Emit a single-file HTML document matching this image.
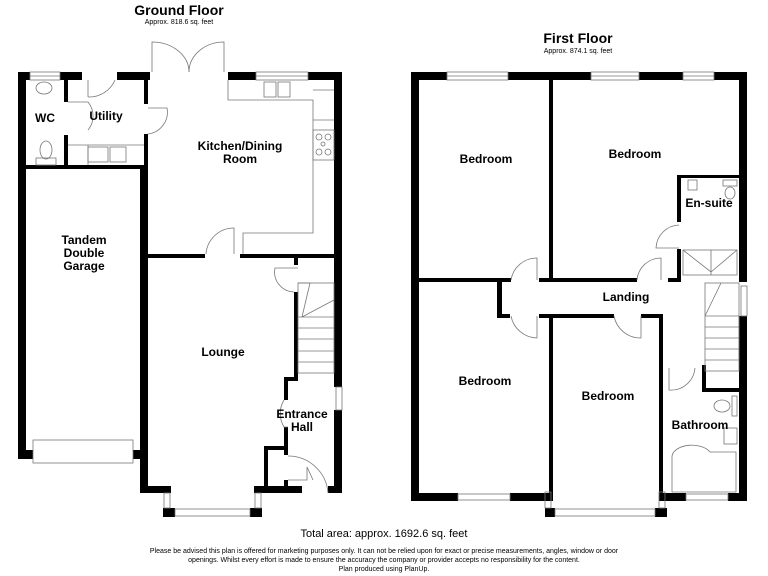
<!DOCTYPE html>
<html><head><meta charset="utf-8"><style>
html,body{margin:0;padding:0;background:#fff;}
svg{display:block;}
text{font-family:"Liberation Sans",Arial,sans-serif;fill:#000;}
.b{font-weight:bold;font-size:12px;}
</style></head><body>
<svg width="768" height="576" viewBox="0 0 768 576" xmlns="http://www.w3.org/2000/svg">
<g fill="#000">
<!-- GROUND FLOOR walls -->
<rect x="18" y="72" width="8" height="387"/>
<rect x="18" y="72" width="12" height="8"/>
<rect x="60" y="72" width="22" height="8"/>
<rect x="117" y="72" width="33" height="8"/>
<rect x="228" y="72" width="28" height="8"/>
<rect x="308" y="72" width="34" height="8"/>
<rect x="334" y="72" width="8" height="315"/>
<rect x="334" y="410" width="8" height="83"/>
<rect x="328" y="486" width="14" height="7"/>
<rect x="18" y="450" width="15" height="9"/>
<rect x="133" y="450" width="15" height="9"/>
<rect x="140" y="165" width="8" height="328"/>
<rect x="140" y="486" width="31" height="7"/>
<rect x="254" y="486" width="48" height="7"/>
<rect x="163" y="508" width="12" height="9"/>
<rect x="250" y="508" width="12" height="9"/>
<rect x="26" y="165" width="122" height="4"/>
<rect x="64" y="80" width="4" height="22"/>
<rect x="64" y="135" width="4" height="30"/>
<rect x="144" y="80" width="4" height="24"/>
<rect x="144" y="134" width="4" height="31"/>
<rect x="148" y="254" width="57" height="4"/>
<rect x="240" y="254" width="102" height="4"/>
<rect x="294" y="258" width="4" height="7"/>
<rect x="294" y="292" width="4" height="88"/>
<rect x="284" y="377" width="14" height="4"/>
<rect x="284" y="377" width="4" height="23"/>
<rect x="284" y="427" width="4" height="28"/>
<rect x="264" y="446" width="24" height="4"/>
<rect x="264" y="446" width="4" height="42"/>
<rect x="284" y="480" width="4" height="8"/>
<!-- FIRST FLOOR walls -->
<rect x="411" y="72" width="8" height="429"/>
<rect x="411" y="72" width="36" height="8"/>
<rect x="508" y="72" width="83" height="8"/>
<rect x="639" y="72" width="44" height="8"/>
<rect x="714" y="72" width="33" height="8"/>
<rect x="739" y="72" width="8" height="210"/>
<rect x="739" y="316" width="8" height="185"/>
<rect x="411" y="493" width="47" height="8"/>
<rect x="510" y="493" width="43" height="8"/>
<rect x="659" y="493" width="27" height="8"/>
<rect x="728" y="493" width="19" height="8"/>
<rect x="549" y="80" width="4" height="200"/>
<rect x="419" y="278" width="92" height="4"/>
<rect x="539" y="278" width="98" height="4"/>
<rect x="668" y="278" width="12" height="4"/>
<rect x="677" y="175" width="4" height="47"/>
<rect x="677" y="249" width="4" height="33"/>
<rect x="677" y="175" width="62" height="3"/>
<rect x="497" y="278" width="5" height="40"/>
<rect x="497" y="314" width="13" height="4"/>
<rect x="539" y="314" width="75" height="4"/>
<rect x="641" y="314" width="22" height="4"/>
<rect x="549" y="314" width="4" height="187"/>
<rect x="659" y="314" width="4" height="55"/>
<rect x="659" y="368" width="4" height="133"/>
<rect x="702" y="365" width="4" height="27"/>
<rect x="702" y="388" width="37" height="4"/>
<rect x="545" y="508" width="10" height="9"/>
<rect x="655" y="508" width="12" height="9"/>
</g>
<g fill="none" stroke="#777" stroke-width="0.8">
<!-- windows GF -->
<rect x="30" y="72" width="30" height="8"/><line x1="30" y1="76" x2="60" y2="76"/>
<rect x="256" y="72" width="52" height="8"/><line x1="256" y1="76" x2="308" y2="76"/>
<rect x="336" y="387" width="6" height="23"/>
<rect x="33" y="440" width="100" height="23"/>
<rect x="175" y="509" width="75" height="7"/>
<rect x="164" y="493" width="6" height="15"/><rect x="255" y="493" width="6" height="15"/>
<!-- doors GF -->
<path d="M152 72 V42 A37 30 0 0 1 189 72"/>
<path d="M224 72 V42 A35 30 0 0 0 189 72"/>
<path d="M88 80 V97 H88 M88 97 A28 28 0 0 0 115 80"/>
<path d="M68 102 H88 A22 22 0 0 1 88 130"/>
<path d="M148 108 H167 A22 22 0 0 1 148 134"/>
<path d="M206 254 A28 28 0 0 1 234 228 V254"/>
<path d="M298 268 H275 A20 20 0 0 0 294 292"/>
<path d="M284 400 A26 26 0 0 0 284 427 H288"/>
<path d="M288 456 A40 40 0 0 1 328 493"/>
<path d="M288 480 H307 V467 L313 480"/>
<!-- kitchen counters -->
<path d="M228 80 V100 H313 V233 H243 V254"/>
<path d="M313 90 H334 M313 120 H334"/>
<rect x="313" y="130" width="21" height="30"/>
<circle cx="319" cy="137" r="3"/><circle cx="328" cy="137" r="3"/><circle cx="319" cy="152" r="3"/><circle cx="328" cy="152" r="3"/><circle cx="323" cy="144" r="2"/>
<rect x="264" y="82" width="12" height="15"/><rect x="278" y="82" width="12" height="15"/>
<path d="M68 145 H144 M88 145 V165"/>
<rect x="88" y="147" width="20" height="15"/><rect x="110" y="147" width="16" height="15"/>
<ellipse cx="46" cy="150" rx="6" ry="9"/><rect x="36" y="158" width="20" height="7"/>
<ellipse cx="44" cy="88" rx="8" ry="6"/>
<!-- stairs GF -->
<rect x="298" y="283" width="36" height="90"/>
<path d="M298 283 L310 283 L302 317 L334 300 M298 317 H334 M298 328 H334 M298 339 H334 M298 351 H334 M298 362 H334"/>
<!-- windows FF -->
<rect x="447" y="72" width="61" height="8"/><line x1="447" y1="76" x2="508" y2="76"/>
<rect x="591" y="72" width="48" height="8"/><line x1="591" y1="76" x2="639" y2="76"/>
<rect x="683" y="72" width="31" height="8"/><line x1="683" y1="76" x2="714" y2="76"/>
<rect x="458" y="494" width="52" height="6"/>
<rect x="686" y="494" width="42" height="6"/>
<rect x="555" y="509" width="100" height="7"/>
<rect x="545" y="492" width="6" height="16"/><rect x="659" y="492" width="6" height="16"/>
<rect x="741" y="286" width="6" height="30"/>
<!-- doors FF -->
<path d="M511 280 A26 26 0 0 1 537 258 V280"/>
<path d="M637 280 A24 24 0 0 1 661 258 V280"/>
<path d="M511 316 A27 27 0 0 0 537 338 V316"/>
<path d="M614 316 A27 27 0 0 0 641 338 V316"/>
<path d="M679 225 A24 24 0 0 0 656 248 H679"/>
<path d="M669 368 V390 A24 24 0 0 0 695 368"/>
<!-- ensuite fixtures -->
<rect x="683" y="250" width="54" height="25"/><path d="M683 250 L711 272 L737 250 M711 250 V275"/>
<rect x="688" y="180" width="9" height="10"/><ellipse cx="730" cy="193" rx="5" ry="6"/><rect x="723" y="180" width="14" height="6"/>
<!-- stairs FF -->
<rect x="705" y="283" width="34" height="88"/>
<path d="M705 316 L721 283 M705 316 H739 M705 327 H739 M705 338 H739 M705 349 H739 M705 360 H739 L739 315"/>
<!-- bathroom -->
<path d="M672 492 V456 A20 12 0 0 1 710 452 H736 V492 Z"/>
<ellipse cx="722" cy="406" rx="8" ry="6"/><rect x="732" y="396" width="5" height="20"/>
<rect x="724" y="428" width="13" height="16"/>
</g>
<!-- texts -->
<text x="179" y="15" text-anchor="middle" style="font-weight:bold;font-size:14px">Ground Floor</text>
<text x="179" y="24" text-anchor="middle" style="font-size:7px">Approx. 818.6 sq. feet</text>
<text x="578" y="43" text-anchor="middle" style="font-weight:bold;font-size:14px">First Floor</text>
<text x="578" y="53" text-anchor="middle" style="font-size:7px">Approx. 874.1 sq. feet</text>
<text class="b" x="45" y="122" text-anchor="middle">WC</text>
<text class="b" x="106" y="120" text-anchor="middle">Utility</text>
<text class="b" x="240" y="150" text-anchor="middle">Kitchen/Dining</text>
<text class="b" x="240" y="163" text-anchor="middle">Room</text>
<text class="b" x="84" y="244" text-anchor="middle">Tandem</text>
<text class="b" x="84" y="257" text-anchor="middle">Double</text>
<text class="b" x="84" y="270" text-anchor="middle">Garage</text>
<text class="b" x="223" y="356" text-anchor="middle">Lounge</text>
<text class="b" x="302" y="418" text-anchor="middle">Entrance</text>
<text class="b" x="302" y="431" text-anchor="middle">Hall</text>
<text class="b" x="486" y="163" text-anchor="middle">Bedroom</text>
<text class="b" x="635" y="158" text-anchor="middle">Bedroom</text>
<text class="b" x="709" y="207" text-anchor="middle">En-suite</text>
<text class="b" x="626" y="301" text-anchor="middle">Landing</text>
<text class="b" x="485" y="385" text-anchor="middle">Bedroom</text>
<text class="b" x="608" y="400" text-anchor="middle">Bedroom</text>
<text class="b" x="700" y="429" text-anchor="middle">Bathroom</text>
<text x="384" y="537" text-anchor="middle" style="font-size:11px">Total area: approx. 1692.6 sq. feet</text>
<text x="384" y="553" text-anchor="middle" style="font-size:7px">Please be advised this plan is offered for marketing purposes only. It can not be relied upon for exact or precise measurements, angles, window or door</text>
<text x="384" y="562" text-anchor="middle" style="font-size:7px">openings. Whilst every effort is made to ensure the accuracy the company or provider accepts no responsibility for the content.</text>
<text x="384" y="571" text-anchor="middle" style="font-size:7px">Plan produced using PlanUp.</text>
</svg>
</body></html>
